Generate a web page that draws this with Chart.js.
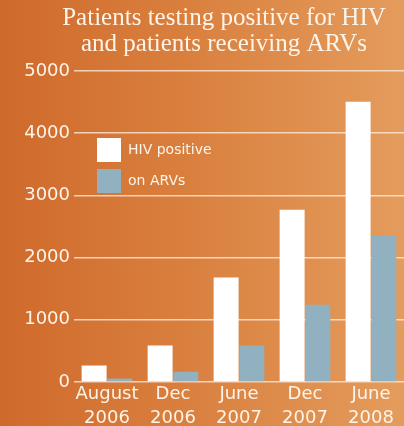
<!DOCTYPE html>
<html>
<head>
<meta charset="utf-8">
<script src="https://cdn.jsdelivr.net/npm/chart.js@4"></script>
<style>
    html, body { margin: 0; padding: 0; }
    body { width: 404px; height: 426px; overflow: hidden; }
    #wrap {
        width: 404px; height: 426px;
        background: linear-gradient(to right, #cf6a2b 0%, #d97f3e 45%, #e49c5c 100%);
    }
</style>
</head>
<body>
<div id="wrap"><canvas id="graphHiv" width="404" height="426"></canvas></div>
<script>
// ==== Data ====
var periods = [['August', '2006'], ['Dec', '2006'], ['June', '2007'], ['Dec', '2007'], ['June', '2008']]
var hivPositive = [265, 585, 1680, 2770, 4505]
var onArvs = [55, 165, 585, 1240, 2355]
var yTicks = [0, 1000, 2000, 3000, 4000, 5000]

// move title + legend where the original has them
var shiftBoxes = {
    id: 'shiftBoxes',
    afterLayout: function(chart) {
        var t = chart.titleBlock
        if (t) { t.left += 44 }
        var lg = chart.legend
        if (lg) {
            // vertical legend gets top = 0 in setDimensions
            lg.left += 16; lg.right += 16
            lg.top += 131; lg.bottom += 131
        }
    }
}

var config = {
    type: 'bar',
    data: {
        labels: periods,
        datasets: [{
            label: 'HIV positive',
            data: hivPositive,
            backgroundColor: '#ffffff',
            borderWidth: 0,
        }, {
            label: 'on ARVs',
            data: onArvs,
            backgroundColor: '#91b0c0',
            borderWidth: 0,
        }],
    },
    options: {
        responsive: false,
        animation: false,
        layout: { padding: 0 },
        categoryPercentage: 0.78,
        barPercentage: 0.97,
        plugins: {
            title: {
                display: true,
                text: ['Patients testing positive for HIV', 'and patients receiving ARVs'],
                color: '#fdf4ea',
                font: { family: 'Liberation Serif', size: 25, weight: 'normal', lineHeight: '26px' },
                padding: { top: 5, bottom: 14 },
            },
            legend: {
                position: 'chartArea',
                align: 'start',
                labels: {
                    color: '#fdf4ea',
                    boxWidth: 24,
                    boxHeight: 24,
                    padding: 7,
                    font: { family: 'DejaVu Sans', size: 14 },
                },
            },
            tooltip: { enabled: false },
        },
        scales: {
            x: {
                grid: { display: false, drawTicks: false },
                border: { display: false },
                ticks: {
                    color: '#fdf4ea',
                    padding: 0,
                    maxRotation: 0,
                    font: { family: 'DejaVu Sans', size: 18, lineHeight: '24px' },
                },
                afterFit: function(scale) { scale.height = 44 },
            },
            y: {
                min: 0,
                max: 5000,
                afterBuildTicks: function(scale) {
                    scale.ticks = yTicks.map(function(v) { return { value: v } })
                },
                grid: { color: 'rgba(255,240,225,0.75)', lineWidth: 1.5, drawTicks: false },
                border: { display: false },
                ticks: {
                    color: '#fdf4ea',
                    padding: 4,
                    font: { family: 'DejaVu Sans', size: 18 },
                    callback: function(v) { return String(v) },
                },
                afterFit: function(scale) { scale.width = 74 },
            },
        },
    },
    plugins: [shiftBoxes],
};

var ctx = document.getElementById('graphHiv').getContext('2d')
new Chart(ctx, config)
</script>
</body>
</html>
